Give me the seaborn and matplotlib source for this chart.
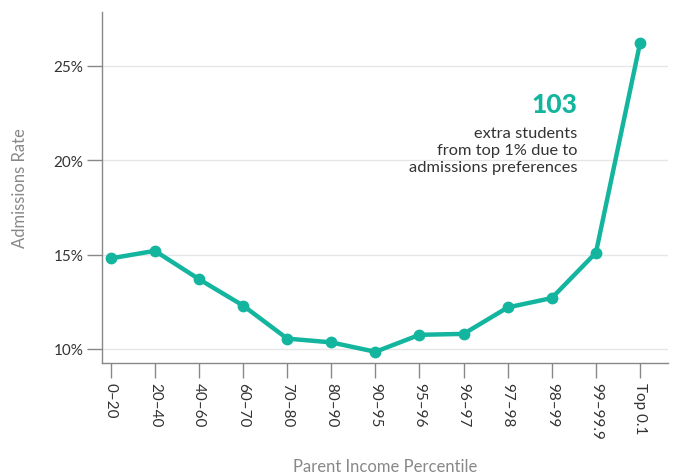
import matplotlib
matplotlib.use("Agg")
import matplotlib.pyplot as plt
import seaborn as sns
import pandas as pd
from matplotlib.ticker import FuncFormatter, FixedLocator

categories = ["0–20", "20–40", "40–60", "60–70", "70–80", "80–90", "90–95",
              "95–96", "96–97", "97–98", "98–99", "99–99.9", "Top 0.1"]
rates = [14.8, 15.2, 13.7, 12.3, 10.55, 10.35, 9.85, 10.75, 10.8, 12.2, 12.7, 15.1, 26.2]
y_ticks = [10, 15, 20, 25]

teal = "#13b59f"
sns.set_theme(style="white")
plt.rcParams['font.family'] = ['Lato', 'DejaVu Sans']

df = pd.DataFrame({"pos": range(len(categories)), "rate": rates})

fig = plt.figure(figsize=(6.75, 4.77), dpi=100)
ax = fig.add_axes([0.151, 0.237, 0.839, 0.736])
sns.lineplot(data=df, x="pos", y="rate", ax=ax, color=teal, linewidth=3.2,
             marker="o", markersize=8.5, markeredgewidth=0, zorder=3)

ax.set_xlim(-0.2, 12.64)
ax.set_ylim(9.26, 27.86)
ax.yaxis.set_major_locator(FixedLocator(y_ticks))
ax.yaxis.set_major_formatter(FuncFormatter(lambda v, p: f"{v:.0f}%"))
ax.set_xticks(range(len(categories)))
ax.set_xticklabels(categories, rotation=270, fontsize=11, color="#333333")
for lab in ax.get_yticklabels():
    lab.set_fontsize(11)
    lab.set_color("#333333")

ax.grid(axis="y", color="#e6e6e6", linewidth=1)
ax.set_axisbelow(True)
for s in ["top", "right"]:
    ax.spines[s].set_visible(False)
for s in ["left", "bottom"]:
    ax.spines[s].set_color("#888888")
    ax.spines[s].set_linewidth(1)
ax.tick_params(axis="both", which="major", length=10.5, width=1, color="#888888",
               bottom=True, left=True, pad=3)

ax.set_xlabel("Parent Income Percentile", fontsize=12, color="#888888", va="center")
ax.xaxis.set_label_coords(0.5, -0.293)
ax.set_ylabel("Admissions Rate", fontsize=12, color="#888888", va="center")
ax.yaxis.set_label_coords(-0.145, 0.5)

fig.text(0.855, 0.78, "103", ha="right", va="center",
         fontsize=19, fontweight="black", color=teal)
fig.text(0.855, 0.683, "extra students\nfrom top 1% due to\nadmissions preferences",
         ha="right", va="center", fontsize=11.8,
         color="#333333", linespacing=1.25)

fig.savefig("out.png", dpi=100)
